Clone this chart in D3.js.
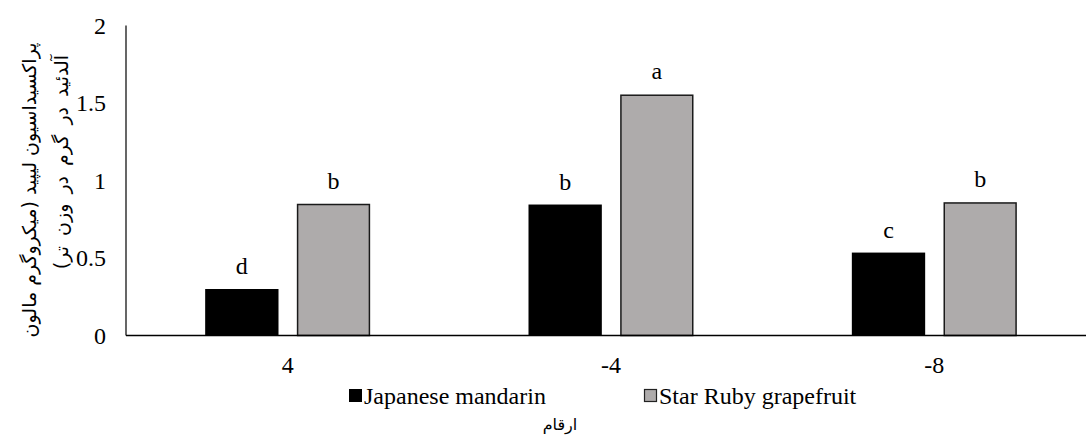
<!DOCTYPE html>
<html><head><meta charset="utf-8">
<script src="https://cdn.jsdelivr.net/npm/d3@7"></script>
<style>body{margin:0;background:#fff}svg{display:block}</style>
</head><body>
<svg id="c" width="1086" height="439"></svg>
<script>
const categories = ["4", "-4", "-8"];
const seriesNames = ["Japanese mandarin", "Star Ruby grapefruit"];
const mandarin = [0.30, 0.845, 0.535];
const grapefruit = [0.85, 1.555, 0.86];
const mandarinLetters = ["d", "b", "c"];
const grapefruitLetters = ["b", "a", "b"];
const yTicks = [0, 0.5, 1, 1.5, 2];
const yTitle1 = "پراکسیداسیون لیپید (میکروگرم مالون";
const yTitle2 = "آلدئید در گرم در وزن تر)";
const xTitle = "ارقام";

(function(){
const colors = ["#000000", "#AEABAB"];
const serif = "'Liberation Serif','Times New Roman',serif";
const fs = 24;
const svg = d3.select("#c");

const pLeft = 126, pRight = 1096, pTop = 25.5, pBottom = 335.5;
const x0 = d3.scaleBand().domain(categories).range([pLeft, pRight]).padding(0);
const bw = x0.bandwidth();
const x1 = d3.scaleBand().domain(seriesNames).range([bw/2 - 82.5, bw/2 + 82.5]).paddingInner(0.2).paddingOuter(0);
const y = d3.scaleLinear().domain([0, 2]).range([pBottom, pTop]);

const data = categories.map((c, i) => ({cat: c, vals: [
  {s: seriesNames[0], v: mandarin[i], l: mandarinLetters[i], k: 0},
  {s: seriesNames[1], v: grapefruit[i], l: grapefruitLetters[i], k: 1}
]}));

svg.append("line").attr("x1", pLeft).attr("x2", pLeft).attr("y1", y(2)).attr("y2", y(0))
  .attr("stroke", "#000").attr("stroke-width", 1.2);

svg.append("g").selectAll("text").data(yTicks).join("text")
  .attr("x", pLeft - 20).attr("y", d => y(d)).attr("dy", "0.35em")
  .attr("text-anchor", "end").style("font-family", serif).style("font-size", fs + "px")
  .text(d => d);

const g = svg.append("g").selectAll("g").data(data).join("g")
  .attr("transform", d => `translate(${x0(d.cat)},0)`);
g.selectAll("rect").data(d => d.vals).join("rect")
  .attr("x", d => x1(d.s) + (d.k ? 0.75 : 0)).attr("width", d => x1.bandwidth() - (d.k ? 1.5 : 0))
  .attr("y", d => y(d.v) + (d.k ? 0.75 : 0)).attr("height", d => y(0) - y(d.v) - (d.k ? 0.75 : 0))
  .attr("fill", d => colors[d.k])
  .attr("stroke", d => d.k ? "#1a1a1a" : "none").attr("stroke-width", 1.5);
g.selectAll("text").data(d => d.vals).join("text")
  .attr("x", d => x1(d.s) + x1.bandwidth()/2).attr("y", d => y(d.v) - 15)
  .attr("text-anchor", "middle").style("font-family", serif).style("font-size", fs + "px")
  .text(d => d.l);

svg.append("line").attr("x1", pLeft).attr("x2", pRight).attr("y1", y(0)).attr("y2", y(0))
  .attr("stroke", "#000").attr("stroke-width", 1.5);

svg.append("g").selectAll("text").data(categories).join("text")
  .attr("x", d => x0(d) + bw/2).attr("y", 373)
  .attr("text-anchor", "middle").style("font-family", serif).style("font-size", fs + "px")
  .text(d => d);

const legX = [349, 644];
const leg = svg.append("g").selectAll("g").data(seriesNames).join("g")
  .attr("transform", (d, i) => `translate(${legX[i]},389)`);
leg.append("rect").attr("x", (d,i)=> i ? 0.5 : 0).attr("y", (d,i)=> i ? 0.5 : 0)
  .attr("width", (d,i)=> i ? 12 : 13).attr("height", (d,i)=> i ? 12 : 13)
  .attr("fill", (d, i) => colors[i]).attr("stroke", (d,i)=> i ? "#222" : "none").attr("stroke-width", 1.2);
leg.append("text").attr("x", 15).attr("y", 14.5).style("font-family", serif).style("font-size", fs + "px")
  .text(d => d);

svg.append("text").attr("x", 560).attr("y", 430).attr("text-anchor", "middle")
  .style("font-family", "'DejaVu Sans',sans-serif").style("font-size", "16px").text(xTitle);

const yt = svg.append("text").attr("transform", "translate(0,190) rotate(-90)")
  .attr("text-anchor", "middle").style("font-family", "'DejaVu Sans',sans-serif").style("font-size", "19px")
  .attr("direction", "rtl");
yt.append("tspan").attr("x", 0).attr("y", 36).text(yTitle1);
yt.append("tspan").attr("x", 28).attr("y", 68).style("word-spacing", "4px").text(yTitle2);
})();
</script>
</body></html>
